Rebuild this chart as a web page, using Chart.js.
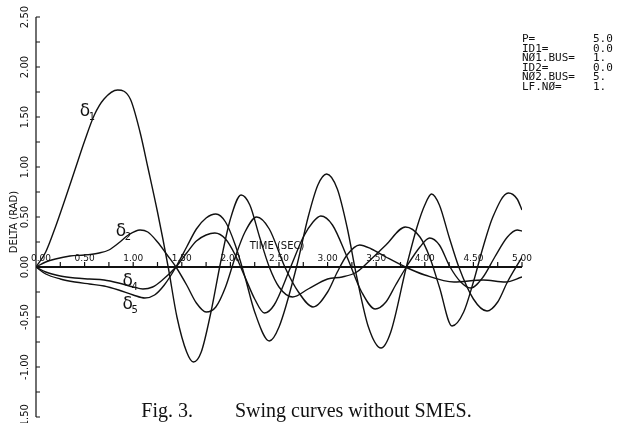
<!DOCTYPE html>
<html>
<head>
<meta charset="utf-8">
<script src="https://cdn.jsdelivr.net/npm/chart.js@4.4.1/dist/chart.umd.min.js"></script>
<style>
  html, body { margin: 0; padding: 0; background: #fff; }
  #wrap { position: relative; width: 618px; height: 423px; }
</style>
</head>
<body>
<div id="wrap"><canvas id="swing" width="618" height="423"></canvas></div>
<script>
const ctx = document.getElementById("swing").getContext("2d");

// swing angles (rad) against time (s)
const t1 = [0, 0.1, 0.2, 0.3, 0.4, 0.5, 0.6, 0.7, 0.84, 0.97, 1.07, 1.15, 1.25, 1.36, 1.45, 1.55, 1.62, 1.7, 1.8, 1.9,
  2.0, 2.11, 2.2, 2.3, 2.4, 2.5, 2.64, 2.8, 3.0, 3.15, 3.3, 3.45, 3.6, 3.8, 3.95, 4.05, 4.15, 4.28, 4.4, 4.5,
  4.6, 4.7, 4.86, 4.95, 5.0];
const delta1 = [0, 0.15, 0.4, 0.68, 0.97, 1.26, 1.52, 1.68, 1.77, 1.68, 1.35, 1.0, 0.55, 0, -0.5, -0.85, -0.95, -0.85, -0.45, 0.05,
  0.48, 0.72, 0.62, 0.3, 0.0, -0.2, -0.3, -0.22, -0.12, -0.1, -0.05, 0.08, 0.22, 0.4, 0.3, 0.1, -0.2, -0.59, -0.45, -0.15,
  0.2, 0.5, 0.74, 0.68, 0.57];

const t2 = [0, 0.1, 0.2, 0.35, 0.5, 0.65, 0.75, 0.85, 0.95, 1.07, 1.15, 1.25, 1.35, 1.44, 1.55, 1.65, 1.75, 1.85, 1.95,
  2.05, 2.15, 2.27, 2.4, 2.56, 2.7, 2.85, 3.0, 3.1, 3.2, 3.33, 3.45, 3.6, 3.8, 4.0, 4.3, 4.6, 4.83, 5.0];
const delta2 = [0, 0.05, 0.08, 0.11, 0.12, 0.14, 0.17, 0.24, 0.32, 0.37, 0.35, 0.25, 0.12, 0, -0.18, -0.36, -0.45, -0.4, -0.2,
  0.1, 0.35, 0.5, 0.38, 0, -0.25, -0.4, -0.25, -0.05, 0.12, 0.22, 0.18, 0.1, 0, -0.08, -0.15, -0.13, -0.15, -0.1];

const t4 = [0, 0.1, 0.25, 0.4, 0.55, 0.7, 0.85, 1.0, 1.1, 1.2, 1.3, 1.44, 1.55, 1.65, 1.75, 1.84, 1.95, 2.05, 2.15, 2.25,
  2.35, 2.45, 2.62, 2.75, 2.85, 2.93, 3.05, 3.2, 3.35, 3.49, 3.6, 3.7, 3.81, 3.95, 4.05, 4.15, 4.26, 4.37, 4.47, 4.6,
  4.72, 4.85, 4.95, 5.0];
const delta4 = [0, -0.05, -0.09, -0.11, -0.12, -0.13, -0.16, -0.2, -0.22, -0.2, -0.13, 0, 0.14, 0.26, 0.32, 0.34, 0.28, 0.12, -0.1, -0.32,
  -0.46, -0.38, 0, 0.3, 0.45, 0.51, 0.42, 0.1, -0.25, -0.42, -0.35, -0.18, 0, 0.2, 0.29, 0.22, 0, -0.15, -0.21, -0.1,
  0.1, 0.3, 0.37, 0.36];

const t5 = [0, 0.1, 0.25, 0.4, 0.55, 0.7, 0.85, 1.0, 1.12, 1.22, 1.32, 1.44, 1.55, 1.65, 1.75, 1.85, 1.95, 2.05, 2.15, 2.25,
  2.4, 2.5, 2.68, 2.8, 2.9, 2.99, 3.1, 3.2, 3.3, 3.42, 3.55, 3.65, 3.81, 3.92, 4.0, 4.07, 4.15, 4.25, 4.35, 4.5,
  4.64, 4.75, 4.85, 5.0];
const delta5 = [0, -0.07, -0.12, -0.15, -0.17, -0.19, -0.23, -0.28, -0.31, -0.28, -0.18, 0, 0.2, 0.38, 0.49, 0.53, 0.45, 0.22, -0.1, -0.45,
  -0.74, -0.6, 0, 0.5, 0.82, 0.93, 0.78, 0.4, -0.1, -0.6, -0.81, -0.65, 0, 0.4, 0.62, 0.73, 0.62, 0.3, 0, -0.32,
  -0.44, -0.35, -0.15, 0.1];

// tick values
const xTicks = [0, 0.5, 1.0, 1.5, 2.0, 2.5, 3.0, 3.5, 4.0, 4.5, 5.0];
const yTicks = [-1.5, -1.0, -0.5, 0, 0.5, 1.0, 1.5, 2.0, 2.5];

// parameter block printed at the upper right
const paramNames = ["P=", "ID1=", "NØ1.BUS=", "ID2=", "NØ2.BUS=", "LF.NØ="];
const paramValues = ["5.0", "0.0", "1.", "0.0", "5.", "1."];

// curve labels: [subscript, t, value]
const curveLabels = [["1", 0.45, 1.51], ["2", 0.82, 0.31], ["4", 0.89, -0.19], ["5", 0.89, -0.42]];

const toXY = (ts, vs) => vs.map((v, i) => ({ x: ts[i], y: v }));
const plotFont = "'DejaVu Sans'";

const axesPlugin = {
  id: "plotterAxes",
  afterDatasetsDraw(chart) {
    const c = chart.ctx;
    const xs = chart.scales.x, ys = chart.scales.y;
    const y0 = ys.getPixelForValue(0), x0 = xs.getPixelForValue(0);
    c.save();
    c.strokeStyle = "#111";
    c.fillStyle = "#111";
    // y axis with minor ticks every 0.25
    c.lineWidth = 1.2;
    c.beginPath();
    c.moveTo(x0, ys.getPixelForValue(2.5));
    c.lineTo(x0, ys.getPixelForValue(-1.5));
    for (let v = -1.5; v <= 2.5001; v += 0.25) {
      const py = ys.getPixelForValue(v);
      c.moveTo(x0, py);
      c.lineTo(x0 + 4, py);
    }
    c.stroke();
    // x axis through zero, ticks pointing up
    c.lineWidth = 1.8;
    c.beginPath();
    c.moveTo(x0, y0);
    c.lineTo(xs.getPixelForValue(5), y0);
    c.stroke();
    c.lineWidth = 1.2;
    c.beginPath();
    for (let t = 0.25; t <= 5.0001; t += 0.25) {
      const px = xs.getPixelForValue(t);
      c.moveTo(px, y0);
      c.lineTo(px, y0 - 5);
    }
    c.stroke();
    // x tick labels above the axis
    c.font = "9px " + plotFont;
    c.textAlign = "center";
    c.textBaseline = "bottom";
    xTicks.forEach(t => c.fillText(t.toFixed(2), xs.getPixelForValue(t) + (t === 0 ? 5 : 0), y0 - 4));
    // y tick labels, rotated
    c.font = "10px " + plotFont;
    yTicks.forEach(v => {
      c.save();
      c.translate(x0 - 11, ys.getPixelForValue(v));
      c.rotate(-Math.PI / 2);
      c.textBaseline = "middle";
      c.fillText(v.toFixed(2), 0, 0);
      c.restore();
    });
    // axis titles
    c.fillText("TIME (SEC)", xs.getPixelForValue(2.48), y0 - 16);
    c.save();
    c.translate(x0 - 22, ys.getPixelForValue(0.45));
    c.rotate(-Math.PI / 2);
    c.textBaseline = "middle";
    c.fillText("DELTA (RAD)", 0, 0);
    c.restore();
    // curve labels
    curveLabels.forEach(([s, t, v]) => {
      const px = xs.getPixelForValue(t), py = ys.getPixelForValue(v);
      c.textAlign = "left";
      c.textBaseline = "alphabetic";
      c.font = "17px " + plotFont;
      c.fillText("δ", px, py);
      c.font = "10px " + plotFont;
      c.fillText(s, px + 9, py + 4);
    });
    // parameter block
    c.font = "11px 'DejaVu Sans Mono'";
    c.textBaseline = "alphabetic";
    c.textAlign = "left";
    paramNames.forEach((n, i) => {
      c.fillText(n, 522, 42 + i * 9.6);
      c.fillText(paramValues[i], 593, 42 + i * 9.6);
    });
    // caption
    c.font = "20px 'Liberation Serif'";
    c.textAlign = "right";
    c.fillText("Fig. 3.", 193, 417);
    c.textAlign = "left";
    c.fillText("Swing curves without SMES.", 235, 417);
    c.restore();
  }
};

const line = (ts, vs) => ({
  data: toXY(ts, vs),
  borderColor: "#111",
  borderWidth: 1.4,
  pointRadius: 0,
  fill: false,
  cubicInterpolationMode: "monotone"
});

new Chart(ctx, {
  type: "line",
  data: { datasets: [line(t1, delta1), line(t2, delta2), line(t4, delta4), line(t5, delta5)] },
  options: {
    responsive: false,
    animation: false,
    layout: { padding: { left: 36, right: 96, top: 17, bottom: 6 } },
    plugins: { legend: { display: false }, tooltip: { enabled: false } },
    scales: {
      x: { type: "linear", min: 0, max: 5, display: false },
      y: { type: "linear", min: -1.5, max: 2.5, display: false }
    }
  },
  plugins: [axesPlugin]
});
</script>
</body>
</html>
